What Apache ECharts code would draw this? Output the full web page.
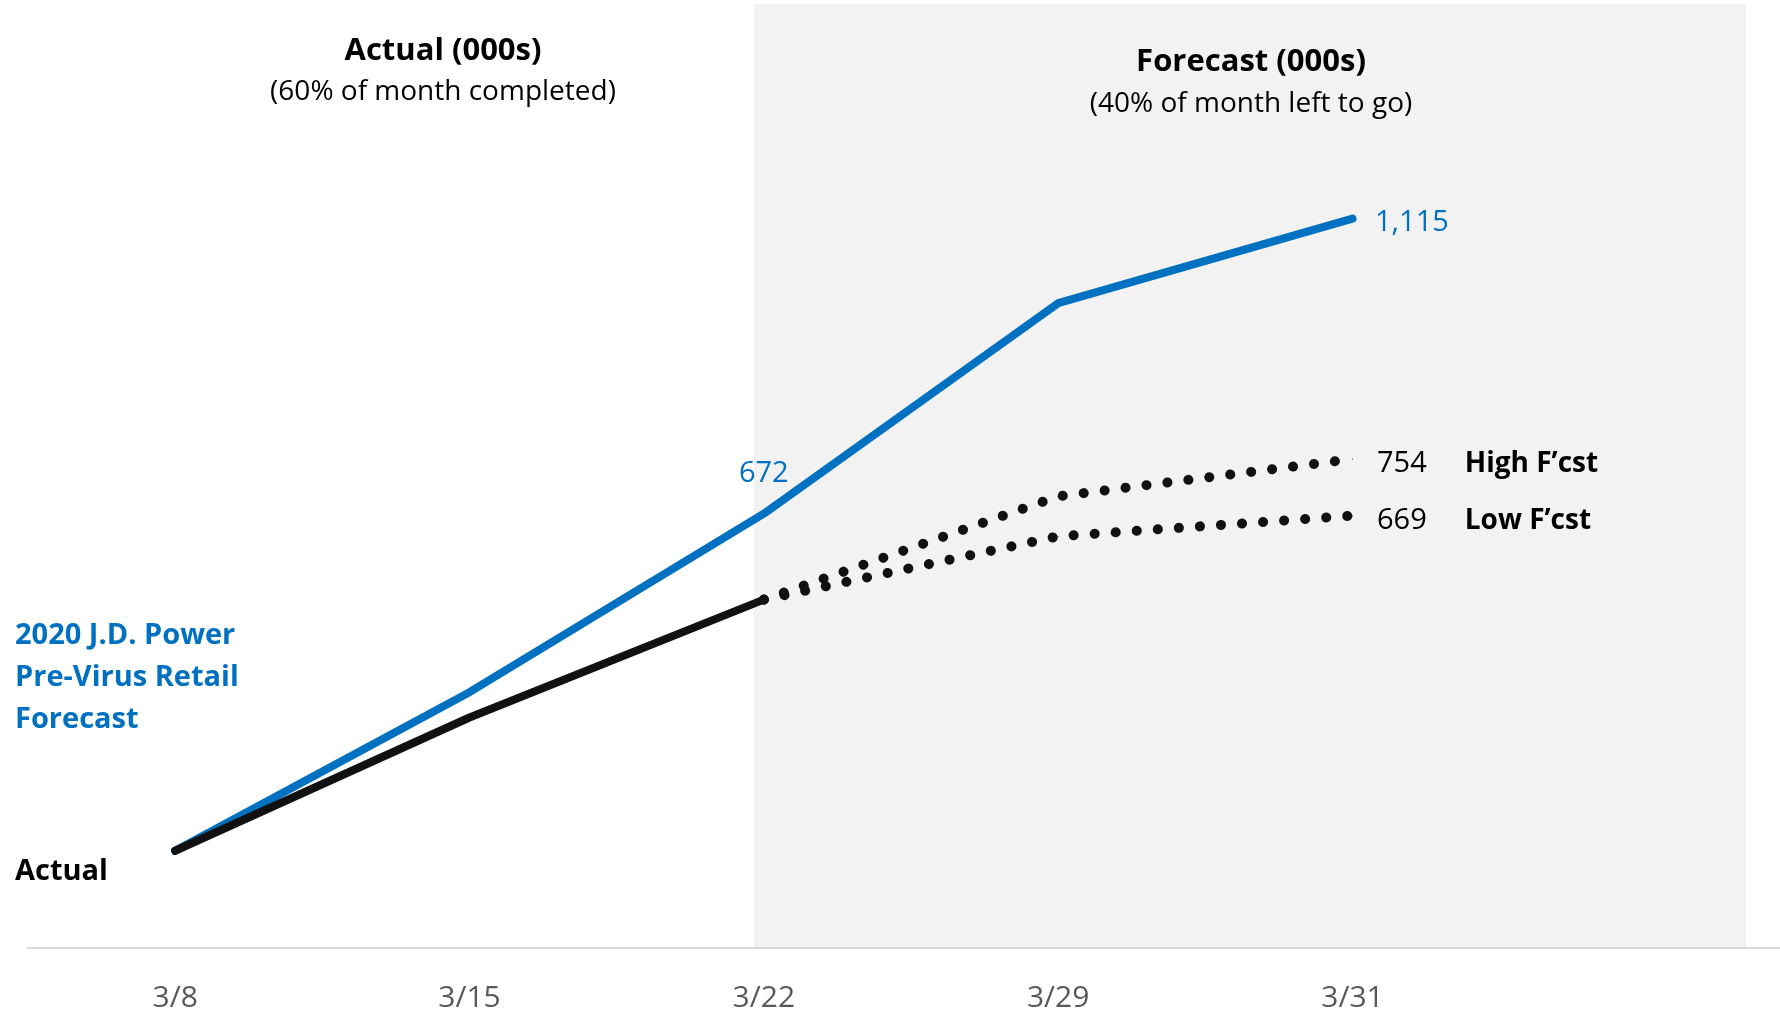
<!DOCTYPE html>
<html lang="en">
<head>
<meta charset="utf-8">
<script src="https://cdn.jsdelivr.net/npm/echarts@6/dist/echarts.min.js"></script>
<title>Actual vs Forecast (000s)</title>
<style>
  html, body { margin: 0; padding: 0; background: #fff; }
  #main-chart { width: 1780px; height: 1016px; }
</style>
</head>
<body>
<div id="main-chart"></div>
<script>
// weekly points of the month
const dates = ['3/8', '3/15', '3/22', '3/29', '3/31'];
// 2020 J.D. Power pre-virus retail forecast (000s)
const preVirus = [166, 404, 672, 988, 1115];
// actual so far (3/8 .. 3/22)
const actual = [166, 366, 543];
// forecast range, starting at 3/22
const highFcst = [543, 698, 754];
const lowFcst = [543, 638, 669];

const FONT = '"Open Sans", "Noto Sans", sans-serif';
const BLUE = '#0070c0';
const BLACK = '#111111';

let myChart = echarts.init(document.getElementById('main-chart'));

// put values on the category slots, optional label per slot (keyed by category index)
function place(values, start, labels) {
  let out = dates.map(function () { return null; });
  values.forEach(function (v, i) { out[start + i] = v; });
  return out.map(function (v, i) {
    return (labels && labels[i]) ? { value: v, label: labels[i] } : v;
  });
}

let fcstStart = dates.indexOf('3/22');
let last = dates.length - 1;

function rangeLabel(name) {
  return {
    show: true,
    position: 'right',
    distance: 24,
    offset: [0, 5],
    formatter: function (p) { return '{v|' + p.value + '}{n|' + name + '}'; },
    rich: {
      v: { fontFamily: FONT, fontSize: 29, color: '#000' },
      n: { fontFamily: FONT, fontSize: 28, fontWeight: 'bold', color: '#000', padding: [0, 0, 0, 38] }
    }
  };
}

function blueLabel(pos, dist, off) {
  return {
    show: true, position: pos, distance: dist, offset: off,
    fontFamily: FONT, fontSize: 29, color: BLUE,
    formatter: function (p) { return p.value.toLocaleString('en-US'); }
  };
}

let blueLabels = {};
blueLabels[fcstStart] = blueLabel('top', 25, [0, 0]);
blueLabels[last] = blueLabel('right', 22, [0, 4]);

let highLabels = {}; highLabels[last] = rangeLabel('High F\u2019cst');
let lowLabels = {}; lowLabels[last] = rangeLabel('Low F\u2019cst');

let dotted = { color: BLACK, width: 10, type: [0.1, 21], cap: 'round', join: 'round' };

function txt(x, y, text, font, fill, align, valign, extra) {
  let style = { text: text, font: font, fill: fill, textAlign: align, textVerticalAlign: valign };
  if (extra) Object.assign(style, extra);
  return { type: 'text', x: x, y: y, style: style };
}

let option = {
  animation: false,
  backgroundColor: '#ffffff',
  grid: { left: 28, right: -14, top: 92, bottom: 68, outerBoundsMode: 'none' },
  xAxis: {
    type: 'category',
    data: dates.concat(['']),
    boundaryGap: true,
    axisLine: { show: true, lineStyle: { color: '#d9d9d9', width: 2 } },
    axisTick: { show: false },
    axisLabel: { margin: 35, fontFamily: FONT, fontSize: 30, color: '#595959' },
    splitLine: { show: false }
  },
  yAxis: {
    type: 'value',
    min: 20,
    max: 1305,
    show: false,
    splitLine: { show: false }
  },
  graphic: [
    { type: 'rect', z: -1, silent: true,
      shape: { x: 754, y: 4, width: 992, height: 943 },
      style: { fill: '#f2f2f2' } },
    txt(443, 51, 'Actual (000s)', 'bold 31px ' + FONT, '#000', 'center', 'middle'),
    txt(443, 92, '(60% of month completed)', '28px ' + FONT, '#000', 'center', 'middle'),
    txt(1251, 62, 'Forecast (000s)', 'bold 31px ' + FONT, '#000', 'center', 'middle'),
    txt(1251, 104, '(40% of month left to go)', '28px ' + FONT, '#000', 'center', 'middle'),
    txt(15, 615, '2020 J.D. Power\nPre-Virus Retail\nForecast', 'bold 29px ' + FONT, BLUE, 'left', 'top', { lineHeight: 42 }),
    txt(15, 872, 'Actual', 'bold 29px ' + FONT, '#000', 'left', 'middle')
  ],
  series: [
    {
      name: 'Pre-Virus Forecast',
      type: 'line',
      data: place(preVirus, 0, blueLabels),
      symbol: 'circle', symbolSize: 1,
      itemStyle: { color: BLUE },
      lineStyle: { color: BLUE, width: 8, cap: 'round', join: 'round' },
      label: { show: false }
    },
    {
      name: 'Actual',
      type: 'line',
      data: place(actual, 0),
      symbol: 'circle', symbolSize: 1,
      itemStyle: { color: BLACK },
      lineStyle: { color: BLACK, width: 8, cap: 'round', join: 'round' },
      label: { show: false }
    },
    {
      name: 'High F\u2019cst',
      type: 'line',
      data: place(highFcst, fcstStart, highLabels),
      symbol: 'circle', symbolSize: 1,
      itemStyle: { color: BLACK },
      lineStyle: dotted,
      label: { show: false }
    },
    {
      name: 'Low F\u2019cst',
      type: 'line',
      data: place(lowFcst, fcstStart, lowLabels),
      symbol: 'circle', symbolSize: 1,
      itemStyle: { color: BLACK },
      lineStyle: dotted,
      label: { show: false }
    }
  ]
};

myChart.setOption(option);
</script>
</body>
</html>
